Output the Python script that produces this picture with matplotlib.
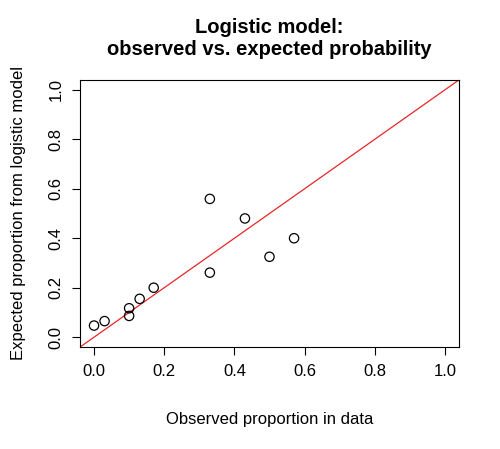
import matplotlib.pyplot as plt

# observed vs expected proportions
observed = [0.0, 0.03, 0.10, 0.10, 0.13, 0.17, 0.33, 0.33, 0.43, 0.50, 0.57]
expected = [0.047, 0.065, 0.117, 0.086, 0.155, 0.20, 0.559, 0.261, 0.48, 0.325, 0.40]
ticks = [0.0, 0.2, 0.4, 0.6, 0.8, 1.0]

plt.rcParams['font.family'] = 'Liberation Sans'
fig = plt.figure(figsize=(5, 4.49), dpi=100)
ax = fig.add_axes([0.16, 0.227, 0.758, 0.595])

ax.scatter(observed, expected, s=45, facecolors='none', edgecolors='black', linewidths=0.9, zorder=3)
ax.plot([-0.1, 1.1], [-0.1, 1.1], color='#e8262a', linewidth=0.9)

ax.set_xlim(-0.04, 1.04)
ax.set_ylim(-0.04, 1.04)
ax.set_xticks(ticks)
ax.set_yticks(ticks)
ax.set_xticklabels([f"{t:.1f}" for t in ticks])
ax.set_yticklabels([f"{t:.1f}" for t in ticks], rotation=90, va='center')
ax.tick_params(labelsize=12, length=6, width=0.8, pad=6)
for s in ax.spines.values():
    s.set_linewidth(0.8)

ax.set_xlabel('Observed proportion in data', fontsize=12, labelpad=24)
ax.set_ylabel('Expected proportion from logistic model', fontsize=12, labelpad=16)
ax.set_title('Logistic model:\nobserved vs. expected probability', fontsize=14.5,
             fontweight='bold', pad=18)

plt.savefig('out.png', dpi=100)
